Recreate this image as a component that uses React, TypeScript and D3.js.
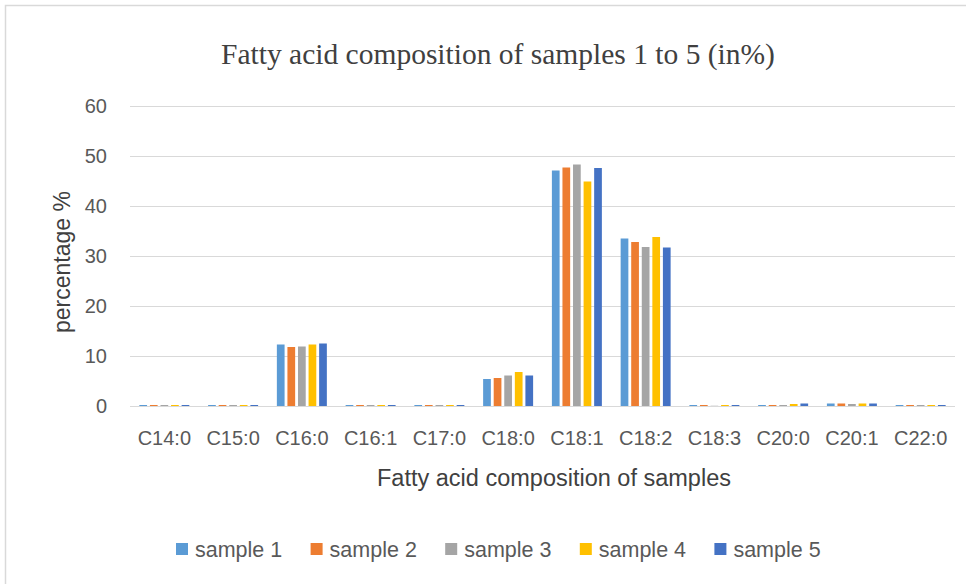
import { useEffect, useRef } from 'react';
import * as d3 from 'd3';

const categories = ['C14:0', 'C15:0', 'C16:0', 'C16:1', 'C17:0', 'C18:0', 'C18:1', 'C18:2', 'C18:3', 'C20:0', 'C20:1', 'C22:0'];
const seriesNames = ['sample 1', 'sample 2', 'sample 3', 'sample 4', 'sample 5'];
const sample1 = [0.2, 0.2, 12.3, 0.2, 0.2, 5.4, 47.1, 33.5, 0.2, 0.2, 0.5, 0.2];
const sample2 = [0.2, 0.2, 11.8, 0.2, 0.2, 5.6, 47.7, 32.8, 0.2, 0.2, 0.5, 0.2];
const sample3 = [0.2, 0.2, 11.9, 0.2, 0.2, 6.1, 48.3, 31.8, 0.05, 0.2, 0.4, 0.2];
const sample4 = [0.2, 0.2, 12.3, 0.2, 0.2, 6.8, 44.9, 33.8, 0.2, 0.4, 0.5, 0.2];
const sample5 = [0.2, 0.2, 12.5, 0.2, 0.2, 6.1, 47.6, 31.7, 0.2, 0.5, 0.5, 0.2];
const yTicks = [0, 10, 20, 30, 40, 50, 60];
const colors = ['#5B9BD5', '#ED7D31', '#A5A5A5', '#FFC000', '#4472C4'];

const W = 966;
const H = 584;
const sans = '"Liberation Sans", Arial, sans-serif';

const App = () => {
  const ref = useRef<SVGSVGElement | null>(null);

  useEffect(() => {
    const svg = d3.select(ref.current);
    svg.selectAll('*').remove();

    const values = [sample1, sample2, sample3, sample4, sample5];
    const left = 130;
    const right = 955;
    const top = 106;
    const bottom = 406;

    const x = d3.scaleBand().domain(categories).range([left, right]).paddingInner(0.273).paddingOuter(0.136);
    const xs = d3.scaleBand().domain(seriesNames).range([0, x.bandwidth()]).paddingInner(0.27);
    const y = d3.scaleLinear().domain([0, 60]).range([bottom, top]);

    // frame
    svg.append('rect')
      .attr('x', 5.5).attr('y', 5.5)
      .attr('width', W + 20).attr('height', H + 20)
      .attr('fill', '#fff').attr('stroke', '#d9d9d9').attr('stroke-width', 1.5);

    svg.append('text')
      .attr('x', 498).attr('y', 64)
      .attr('text-anchor', 'middle')
      .attr('font-family', '"Liberation Serif", "Times New Roman", serif')
      .attr('font-size', 29.5)
      .attr('fill', '#404040')
      .text('Fatty acid composition of samples 1 to 5 (in%)');

    // gridlines
    svg.append('g')
      .selectAll('line')
      .data(yTicks)
      .join('line')
      .attr('x1', left).attr('x2', right)
      .attr('y1', (d) => Math.round(y(d)) + 0.5).attr('y2', (d) => Math.round(y(d)) + 0.5)
      .attr('stroke', '#d9d9d9').attr('stroke-width', 1);

    svg.append('g')
      .selectAll('text')
      .data(yTicks)
      .join('text')
      .attr('x', 107).attr('y', (d) => y(d) + 7)
      .attr('text-anchor', 'end')
      .attr('font-family', sans).attr('font-size', 20)
      .attr('fill', '#595959')
      .text((d) => d);

    svg.append('text')
      .attr('transform', `translate(70,${(top + bottom) / 2 + 6}) rotate(-90)`)
      .attr('text-anchor', 'middle')
      .attr('font-family', sans).attr('font-size', 23)
      .attr('fill', '#404040')
      .text('percentage %');

    // bars
    const groups = svg.append('g')
      .selectAll('g')
      .data(categories)
      .join('g')
      .attr('transform', (d) => `translate(${x(d)},0)`);

    groups.selectAll('rect')
      .data((_, i) => seriesNames.map((s, j) => ({ s, v: values[j][i], j })))
      .join('rect')
      .attr('x', (d) => xs(d.s)!)
      .attr('width', xs.bandwidth())
      .attr('y', (d) => y(d.v))
      .attr('height', (d) => y(0) - y(d.v))
      .attr('fill', (d) => colors[d.j]);

    svg.append('g')
      .selectAll('text')
      .data(categories)
      .join('text')
      .attr('x', (d) => x(d)! + x.bandwidth() / 2)
      .attr('y', 445)
      .attr('text-anchor', 'middle')
      .attr('font-family', sans).attr('font-size', 20)
      .attr('fill', '#595959')
      .text((d) => d);

    svg.append('text')
      .attr('x', 554).attr('y', 486)
      .attr('text-anchor', 'middle')
      .attr('font-family', sans).attr('font-size', 23.5)
      .attr('fill', '#404040')
      .text('Fatty acid composition of samples');

    // legend
    const legend = svg.append('g')
      .selectAll('g')
      .data(seriesNames)
      .join('g')
      .attr('transform', (_, i) => `translate(${176 + i * 134.6},549)`);

    legend.append('rect')
      .attr('x', 0).attr('y', -6)
      .attr('width', 12).attr('height', 12)
      .attr('fill', (_, i) => colors[i]);

    legend.append('text')
      .attr('x', 19).attr('y', 7.5)
      .attr('font-family', sans).attr('font-size', 21.5)
      .attr('fill', '#595959')
      .text((d) => d);
  }, []);

  return (
    <svg
      ref={ref}
      width={W}
      height={H}
      style={{ position: 'absolute', left: 0, top: 0, display: 'block', background: '#fff' }}
    />
  );
};

export default App;
